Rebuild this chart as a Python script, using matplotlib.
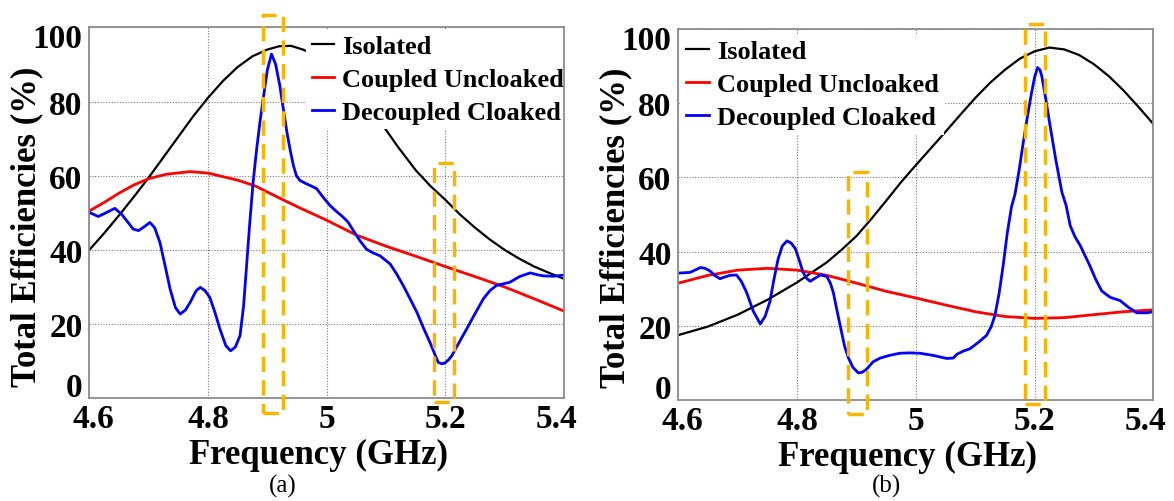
import numpy as np
import matplotlib
matplotlib.use("Agg")
import matplotlib.pyplot as plt
import matplotlib.transforms as mtrans
from matplotlib.patches import Rectangle

# ---- panel (a) ----
f_iso_a = [4.600, 4.625, 4.650, 4.675, 4.700, 4.725, 4.750, 4.775, 4.800, 4.825, 4.850,
           4.875, 4.900, 4.920, 4.940, 4.960, 4.975, 5.000, 5.030, 5.060, 5.095, 5.120,
           5.150, 5.175, 5.200, 5.225, 5.250, 5.275, 5.300, 5.325, 5.350, 5.375, 5.400]
e_iso_a = [40.0, 44.5, 49.3, 54.3, 59.5, 65.0, 70.5, 76.0, 81.0, 85.5, 89.3,
           92.2, 94.0, 94.9, 95.0, 94.0, 93.0, 90.0, 86.0, 81.0, 73.5, 67.8,
           61.5, 57.2, 53.5, 49.5, 46.0, 42.8, 40.0, 37.6, 35.5, 33.8, 32.2]

f_unc_a = [4.600, 4.625, 4.650, 4.675, 4.700, 4.730, 4.770, 4.800, 4.850, 4.880, 4.920,
           4.955, 5.000, 5.050, 5.100, 5.150, 5.200, 5.250, 5.300, 5.350, 5.400]
e_unc_a = [50.5, 52.8, 55.3, 57.5, 59.2, 60.4, 61.1, 60.7, 58.8, 57.2, 54.0,
           51.3, 48.0, 44.0, 41.0, 38.3, 35.5, 32.8, 30.0, 26.8, 23.5]

f_clk_a = [4.600, 4.615, 4.628, 4.643, 4.655, 4.674, 4.683, 4.693, 4.702, 4.710, 4.719,
           4.728, 4.736, 4.745, 4.753, 4.762, 4.770, 4.780, 4.787, 4.795, 4.803, 4.812,
           4.820, 4.830, 4.838, 4.846, 4.854, 4.860, 4.865, 4.870, 4.876, 4.882, 4.888,
           4.893, 4.900, 4.907, 4.914, 4.921, 4.927, 4.933, 4.939, 4.944, 4.949, 4.955,
           4.966, 4.977, 4.983, 4.995, 5.006, 5.017, 5.028, 5.036, 5.045, 5.056, 5.067,
           5.078, 5.090, 5.107, 5.118, 5.129, 5.140, 5.152, 5.163, 5.174, 5.182, 5.188,
           5.194, 5.199, 5.205, 5.211, 5.223, 5.236, 5.250, 5.264, 5.275, 5.286, 5.309,
           5.325, 5.343, 5.355, 5.365, 5.382, 5.399]
e_clk_a = [50.1, 49.0, 50.0, 51.2, 49.5, 45.6, 45.2, 46.3, 47.4, 46.0, 42.0,
           35.5, 29.5, 24.5, 22.7, 23.8, 25.9, 29.0, 29.9, 29.0, 27.2, 23.0,
           18.7, 14.2, 12.8, 13.8, 16.9, 25.0, 35.7, 46.5, 58.2, 67.2, 75.0,
           80.7, 88.5, 92.8, 90.0, 84.3, 78.0, 71.7, 66.5, 62.7, 60.0, 58.7,
           57.8, 57.0, 56.5, 54.0, 51.9, 50.3, 48.8, 47.5, 45.2, 42.5, 40.2,
           39.2, 38.4, 36.2, 33.5, 30.4, 27.0, 23.2, 19.0, 15.1, 12.0, 9.7,
           9.3, 9.5, 10.3, 11.5, 15.0, 18.7, 22.8, 26.8, 29.0, 30.4, 31.3,
           32.8, 33.8, 33.3, 33.0, 32.9, 33.2]

# ---- panel (b) ----
f_iso_b = [4.600, 4.650, 4.700, 4.750, 4.800, 4.850, 4.875, 4.900, 4.925, 4.950, 4.975,
           5.000, 5.025, 5.050, 5.075, 5.100, 5.125, 5.150, 5.175, 5.200, 5.225, 5.250,
           5.275, 5.300, 5.325, 5.350, 5.375, 5.400]
e_iso_b = [17.5, 19.8, 23.0, 27.0, 31.7, 37.1, 40.5, 44.2, 48.8, 53.7, 58.7,
           63.3, 67.8, 72.3, 76.9, 81.4, 85.5, 89.0, 92.0, 94.0, 95.0, 94.5,
           93.0, 90.5, 87.3, 83.4, 79.0, 74.4]

f_unc_b = [4.60, 4.65, 4.70, 4.75, 4.80, 4.85, 4.90, 4.95, 5.00, 5.05, 5.10, 5.15,
           5.20, 5.25, 5.30, 5.35, 5.40]
e_unc_b = [31.5, 33.6, 35.0, 35.5, 35.0, 33.6, 31.5, 29.3, 27.5, 25.6, 23.8, 22.5,
           22.0, 22.2, 23.0, 23.8, 24.3]

f_clk_b = [4.600, 4.620, 4.637, 4.645, 4.653, 4.662, 4.670, 4.679, 4.687, 4.698, 4.706,
           4.715, 4.726, 4.738, 4.746, 4.754, 4.761, 4.768, 4.775, 4.783, 4.790, 4.797,
           4.804, 4.810, 4.816, 4.822, 4.830, 4.839, 4.850, 4.856, 4.861, 4.868, 4.875,
           4.880, 4.886, 4.894, 4.903, 4.910, 4.917, 4.928, 4.940, 4.955, 4.973, 4.990,
           5.007, 5.030, 5.052, 5.063, 5.069, 5.080, 5.091, 5.105, 5.119, 5.127, 5.133,
           5.140, 5.147, 5.154, 5.161, 5.167, 5.174, 5.181, 5.188, 5.195, 5.200, 5.205,
           5.209, 5.212, 5.219, 5.226, 5.236, 5.246, 5.253, 5.260, 5.268, 5.277, 5.293,
           5.303, 5.313, 5.327, 5.344, 5.358, 5.372, 5.389, 5.400]
e_clk_b = [34.2, 34.4, 35.7, 35.5, 34.8, 33.5, 32.7, 33.2, 33.6, 33.7, 32.0,
           29.0, 24.0, 20.5, 22.5, 26.4, 32.5, 38.0, 41.5, 42.9, 42.3, 40.8,
           37.5, 34.4, 32.8, 32.0, 32.8, 33.7, 33.3, 31.5, 29.0, 23.5, 18.2,
           14.5, 11.5, 8.8, 7.3, 7.5, 8.3, 10.3, 11.3, 12.0, 12.6, 12.7,
           12.6, 12.0, 11.2, 11.3, 12.3, 13.2, 13.8, 15.5, 17.4, 19.8, 22.7,
           28.5, 36.2, 45.0, 52.0, 55.5, 62.0, 69.5, 76.5, 82.9, 87.0, 89.6,
           89.0, 87.4, 81.0, 74.0, 64.5, 56.0, 52.5, 47.0, 44.0, 41.6, 36.2,
           32.5, 29.4, 27.7, 26.8, 25.0, 23.5, 23.5, 23.8]

# highlight boxes: (f_lo, f_hi, e_lo, e_hi)
boxes_a = [(4.892, 4.926, -4.0, 103.3), (5.181, 5.215, -1.0, 63.3)]
boxes_b = [(4.885, 4.918, -3.7, 61.4), (5.184, 5.218, -1.0, 101.3)]

xticks = [4.6, 4.8, 5.0, 5.2, 5.4]
xticklabels = ['4.6', '4.8', '5', '5.2', '5.4']
yticks = [0, 20, 40, 60, 80, 100]
labels = ['Isolated', 'Coupled Uncloaked', 'Decoupled Cloaked']

SERIF = 'Liberation Serif'
BOX_COLOR = '#F7B500'

fig = plt.figure(figsize=(11.74, 5.02), dpi=100)
ax_a = fig.add_axes([0.0761, 0.2046, 0.4043, 0.7390])
ax_b = fig.add_axes([0.5778, 0.2012, 0.4046, 0.7390])


def nudge(label, dx_pt, dy_pt):
    # shift a tick label by a fixed amount in points
    off = mtrans.ScaledTranslation(dx_pt / 72.0, dy_pt / 72.0, fig.dpi_scale_trans)
    label.set_transform(label.get_transform() + off)


def draw_panel(ax, iso, unc, clk, boxes, leg_anchor):
    ax.plot(iso[0], iso[1], color='black', lw=1.6, label=labels[0], zorder=3)
    ax.plot(unc[0], unc[1], color='#FF0000', lw=2.0, label=labels[1], zorder=3)
    ax.plot(clk[0], clk[1], color='#0000FF', lw=2.0, label=labels[2], zorder=3)

    for lo, hi, b, t in boxes:
        r = Rectangle((lo, b), hi - lo, t - b, fill=False, edgecolor=BOX_COLOR,
                      lw=2.5, linestyle=(0, (4.4, 2.4)), clip_on=False, zorder=8)
        ax.add_patch(r)

    ax.set_xlim(4.6, 5.4)
    ax.set_ylim(0, 100)
    ax.set_xticks(xticks)
    ax.set_xticklabels(xticklabels)
    ax.set_yticks(yticks)
    ax.tick_params(length=0, labelsize=24)
    ax.tick_params(axis='x', pad=3.5)
    ax.tick_params(axis='y', pad=5)
    xl = ax.get_xticklabels()
    yl = ax.get_yticklabels()
    for lab in xl + yl:
        lab.set_fontfamily(SERIF)
        lab.set_fontweight('bold')
    # end labels are pulled inward along the axis
    nudge(xl[0], 3.2, 0)
    nudge(xl[-1], -5.5, 0)
    nudge(yl[0], 0, 10.0)
    nudge(yl[-1], 0, -5.4)

    ax.grid(True, color='#7a7a7a', linestyle=(0, (1, 1.5)), lw=0.8)
    for sp in ax.spines.values():
        sp.set_color('#8c8c8c')
        sp.set_linewidth(1.3)
        sp.set_zorder(7)

    ax.set_xlabel('Frequency (GHz)', fontsize=25, fontweight='bold', family=SERIF,
                  va='center')
    ax.xaxis.set_label_coords(0.482, -0.152)
    ax.set_ylabel('Total Efficiencies (%)', fontsize=25, fontweight='bold', family=SERIF,
                  va='center')
    ax.yaxis.set_label_coords(-0.132, 0.466)

    leg = ax.legend(loc='upper left', bbox_to_anchor=leg_anchor, frameon=True,
                    prop={'family': SERIF, 'weight': 'bold', 'size': 19},
                    handlelength=0.85, handletextpad=0.3, labelspacing=0.36,
                    borderpad=0.2, borderaxespad=0.0, fancybox=False)
    leg.get_frame().set_facecolor('white')
    leg.get_frame().set_edgecolor('none')
    leg.get_frame().set_alpha(1.0)
    leg.set_zorder(5)


draw_panel(ax_a, (f_iso_a, e_iso_a), (f_unc_a, e_unc_a), (f_clk_a, e_clk_a),
           boxes_a, (0.457, 0.995))
draw_panel(ax_b, (f_iso_b, e_iso_b), (f_unc_b, e_unc_b), (f_clk_b, e_clk_b),
           boxes_b, (0.006, 0.985))

fig.text(0.2407, 0.030, '(a)', fontsize=18, family=SERIF, ha='center', va='center')
fig.text(0.7552, 0.030, '(b)', fontsize=18, family=SERIF, ha='center', va='center')

fig.savefig('out.png', dpi=100)
